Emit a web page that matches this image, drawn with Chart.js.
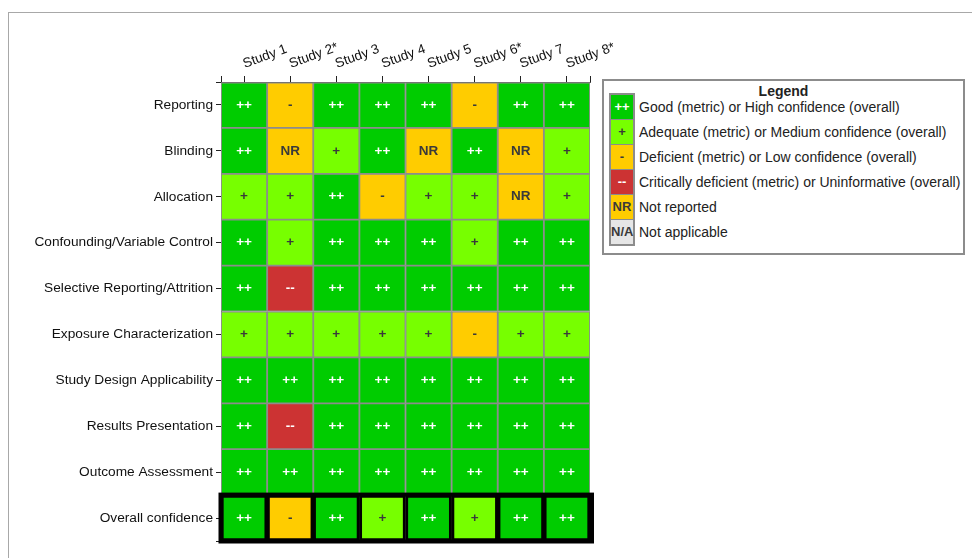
<!DOCTYPE html>
<html>
<head>
<meta charset="utf-8">
<script src="https://cdn.jsdelivr.net/npm/chart.js@4.4.0/dist/chart.umd.min.js"></script>
<style>
  html, body { margin: 0; padding: 0; background: #fff; }
  body { width: 972px; height: 558px; position: relative; overflow: hidden;
         font-family: "Liberation Sans", Arial, sans-serif; }
  #frame { position: absolute; left: 8px; top: 12px; width: 980px; height: 560px;
           border-top: 1px solid #a8a8a8; border-left: 1px solid #a8a8a8; }
  #chart { position: absolute; left: 0; top: 0; }
  #legend { position: absolute; left: 602px; top: 79px; width: 359px; height: 172px;
            border: 2px solid #8c8c8c; background: #fff; color: #222; }
  #legend .title { position: absolute; left: 0; top: 2px; width: 100%; text-align: center;
                   font-weight: bold; font-size: 14px; line-height: 16px; }
  #legend .swatches { position: absolute; left: 5px; top: 12px; width: 22px;
                      border: 2px solid #8c8c8c; }
  #legend .sw { height: 24px; border-bottom: 1px solid #8c8c8c; text-align: center;
                font-size: 13px; font-weight: bold; line-height: 24px; color: #333; }
  #legend .sw:last-child { border-bottom: none; }
  #legend .items { position: absolute; left: 35px; top: 14px; }
  #legend .item { height: 25px; line-height: 25px; font-size: 14px; white-space: nowrap; }
</style>
</head>
<body>
<div id="frame"></div>
<canvas id="chart" width="972" height="558"></canvas>
<div id="legend"></div>
<script>
'use strict';

const studies = ['Study 1', 'Study 2*', 'Study 3', 'Study 4', 'Study 5', 'Study 6*', 'Study 7', 'Study 8*'];
const metrics = [
  'Reporting',
  'Blinding',
  'Allocation',
  'Confounding/Variable Control',
  'Selective Reporting/Attrition',
  'Exposure Characterization',
  'Study Design Applicability',
  'Results Presentation',
  'Outcome Assessment',
  'Overall confidence',
];

// one rating per study, rows in metric order
const reporting = ['++', '-', '++', '++', '++', '-', '++', '++'];
const blinding = ['++', 'NR', '+', '++', 'NR', '++', 'NR', '+'];
const allocation = ['+', '+', '++', '-', '+', '+', 'NR', '+'];
const confounding = ['++', '+', '++', '++', '++', '+', '++', '++'];
const selective = ['++', '--', '++', '++', '++', '++', '++', '++'];
const exposure = ['+', '+', '+', '+', '+', '-', '+', '+'];
const design = ['++', '++', '++', '++', '++', '++', '++', '++'];
const results = ['++', '--', '++', '++', '++', '++', '++', '++'];
const outcome = ['++', '++', '++', '++', '++', '++', '++', '++'];
const overall = ['++', '-', '++', '+', '++', '+', '++', '++'];

const ratingCodes = ['++', '+', '-', '--', 'NR', 'N/A'];
const ratingNames = [
  'Good (metric) or High confidence (overall)',
  'Adequate (metric) or Medium confidence (overall)',
  'Deficient (metric) or Low confidence (overall)',
  'Critically deficient (metric) or Uninformative (overall)',
  'Not reported',
  'Not applicable',
];

const rows = [reporting, blinding, allocation, confounding, selective,
  exposure, design, results, outcome, overall];

const colors = {
  '++': '#00cc00',
  '+': '#77ff00',
  '-': '#ffcc00',
  '--': '#cc3333',
  'NR': '#ffcc00',
  'N/A': '#e6e6e6',
};
const FONT = '"Liberation Sans", Arial, sans-serif';

function textColor(r) {
  return r === '++' || r === '--' ? '#ffffff' : '#3a3a3a';
}

const datasets = rows.map((row, i) => {
  const last = i === rows.length - 1;
  return {
    label: metrics[i],
    data: row.map(() => 1),
    ratings: row,
    backgroundColor: row.map((r) => colors[r]),
    borderColor: last ? '#000000' : '#8c8c8c',
    borderWidth: last ? 3 : 1.25,
    borderSkipped: false,
    barPercentage: 1,
    categoryPercentage: 1,
    xAxisID: 'x',
    yAxisID: 'y',
  };
});

// rating symbols in each cell + heavy box around the overall row
const cellText = {
  id: 'cellText',
  afterDatasetsDraw(chart) {
    const ctx = chart.ctx;
    const y = chart.scales.y;
    const area = chart.chartArea;
    ctx.save();
    const top = y.getPixelForValue(rows.length - 1);
    const bottom = y.getPixelForValue(rows.length);
    ctx.strokeStyle = '#000';
    ctx.lineWidth = 4;
    ctx.strokeRect(area.left - 0.5, top - 0.5, area.right - area.left + 2.5, bottom - top + 1);

    ctx.font = 'bold 13.5px ' + FONT;
    ctx.textAlign = 'center';
    ctx.textBaseline = 'middle';
    chart.data.datasets.forEach((ds, i) => {
      chart.getDatasetMeta(i).data.forEach((bar, j) => {
        const r = ds.ratings[j];
        const p = bar.getCenterPoint();
        ctx.fillStyle = textColor(r);
        ctx.fillText(r, p.x, p.y);
      });
    });
    ctx.restore();
  },
};

const config = {
  type: 'bar',
  data: { labels: studies, datasets: datasets },
  options: {
    responsive: false,
    animation: false,
    devicePixelRatio: 1,
    layout: { padding: { left: 8, right: 382, top: 0, bottom: 17 } },
    plugins: {
      legend: { display: false },
      tooltip: { enabled: false },
    },
    scales: {
      x: {
        type: 'category',
        display: false,
        stacked: true,
        offset: true,
      },
      // study labels on top, with ticks at the column centres and at both ends
      xTop: {
        type: 'linear',
        position: 'top',
        bounds: 'data',
        offset: false,
        min: -0.5,
        max: studies.length - 0.5,
        afterBuildTicks(scale) {
          const t = [{ value: -0.5 }];
          studies.forEach((s, i) => t.push({ value: i }));
          t.push({ value: studies.length - 0.5 });
          scale.ticks = t;
        },
        afterFit(scale) {
          scale.height = 82;
          scale.paddingLeft = 0;
          scale.paddingRight = 0;
        },
        ticks: {
          autoSkip: false,
          minRotation: 20,
          maxRotation: 20,
          padding: 4,
          labelOffset: 5,
          color: '#111',
          font: { size: 13.5, family: FONT },
          callback: function (value) {
            return Number.isInteger(value) ? studies[value] : '';
          },
        },
        grid: { offset: false, drawOnChartArea: false, tickLength: 6, color: '#222', lineWidth: 1 },
        border: { color: '#555', width: 1 },
      },
      y: {
        type: 'linear',
        reverse: true,
        stacked: true,
        bounds: 'data',
        min: 0,
        max: rows.length,
        afterBuildTicks(scale) {
          const t = [{ value: 0 }];
          metrics.forEach((m, i) => t.push({ value: i + 0.5 }));
          t.push({ value: rows.length });
          scale.ticks = t;
        },
        afterFit(scale) {
          scale.width = 213;
        },
        ticks: {
          autoSkip: false,
          padding: 3,
          color: '#111',
          font: { size: 13.7, family: FONT },
          callback: function (value) {
            return Number.isInteger(value) ? '' : metrics[Math.floor(value)];
          },
        },
        grid: { drawOnChartArea: false, tickLength: 5, color: '#222', lineWidth: 1 },
        border: { color: '#555', width: 1 },
      },
    },
  },
  plugins: [cellText],
};

const ctx = document.getElementById('chart');
const myChart = new Chart(ctx, config);

// legend box
const legend = document.getElementById('legend');
let html = '<div class="title">Legend</div><div class="swatches">';
ratingCodes.forEach((r) => {
  html += '<div class="sw" style="background:' + colors[r] + ';color:' + textColor(r) + '">' + r + '</div>';
});
html += '</div><div class="items">';
ratingNames.forEach((n) => {
  html += '<div class="item">' + n + '</div>';
});
html += '</div>';
legend.innerHTML = html;
</script>
</body>
</html>
